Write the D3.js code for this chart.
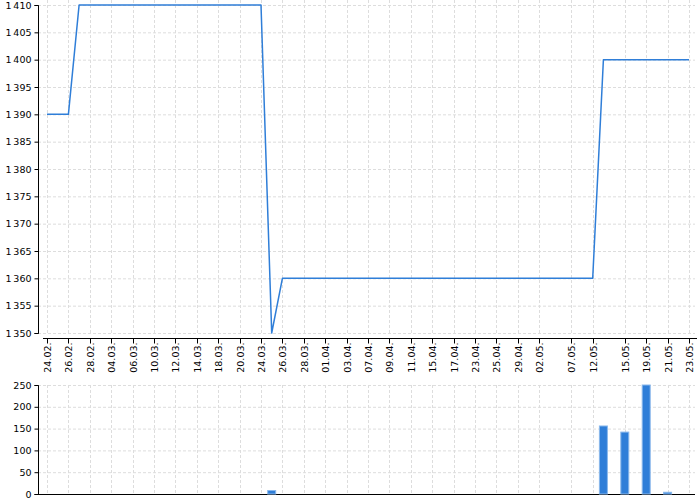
<!DOCTYPE html>
<html><head><meta charset="utf-8">
<script src="https://cdn.jsdelivr.net/npm/d3@7"></script>
<style>body{margin:0;background:#fff}svg{display:block;font-family:"DejaVu Sans",sans-serif}</style>
</head><body><svg id="c" width="700" height="500"></svg>
<script>
const dates = ["24.02.","25.02.","26.02.","27.02.","28.02.","03.03.","04.03.","05.03.","06.03.","07.03.",
"10.03.","11.03.","12.03.","13.03.","14.03.","17.03.","18.03.","19.03.","20.03.","21.03.",
"24.03.","25.03.","26.03.","27.03.","28.03.","31.03.","01.04.","02.04.","03.04.","04.04.",
"07.04.","08.04.","09.04.","10.04.","11.04.","14.04.","15.04.","16.04.","17.04.","22.04.",
"23.04.","24.04.","25.04.","28.04.","29.04.","30.04.","02.05.","05.05.","06.05.","07.05.",
"08.05.","12.05.","13.05.","14.05.","15.05.","16.05.","19.05.","20.05.","21.05.","22.05.","23.05."];
const price = [1390,1390,1390,1410,1410,1410,1410,1410,1410,1410,
1410,1410,1410,1410,1410,1410,1410,1410,1410,1410,
1410,1350,1360,1360,1360,1360,1360,1360,1360,1360,
1360,1360,1360,1360,1360,1360,1360,1360,1360,1360,
1360,1360,1360,1360,1360,1360,1360,1360,1360,1360,
1360,1360,1400,1400,1400,1400,1400,1400,1400,1400,1400];
const volume = [0,0,0,0,0,0,0,0,0,0,
0,0,0,0,0,0,0,0,0,0,
0,8,0,0,0,0,0,0,0,0,
0,0,0,0,0,0,0,0,0,0,
0,0,0,0,0,0,0,0,0,0,
0,0,156,0,142,0,250,0,4,0,0];
const tickLabels = ["24.02.","26.02.","28.02.","04.03.","06.03.","10.03.","12.03.","14.03.","18.03.","20.03.",
"24.03.","26.03.","28.03.","01.04.","03.04.","07.04.","09.04.","11.04.","15.04.","17.04.",
"23.04.","25.04.","29.04.","02.05.","07.05.","12.05.","15.05.","19.05.","21.05.","23.05."];
const priceTicks = [1350,1355,1360,1365,1370,1375,1380,1385,1390,1395,1400,1405,1410];
const volTicks = [0,50,100,150,200,250];

const svg = d3.select("#c");
const loc = d3.formatLocale({decimal:",",thousands:"\u2009",grouping:[3],currency:["",""]});
const fmt = loc.format(",");
const color = "#2f7ed8";
const xL = 38, xR = 695;
const x = d3.scalePoint().domain(dates).range([47, 689]);
const y1 = d3.scaleLinear().domain([1350,1410]).range([333,5]);
const y2 = d3.scaleLinear().domain([0,250]).range([494,385]);
const fs = "9.5px";

function grid(g, y, ticks, top, bottom){
  g.selectAll(".hg").data(ticks).join("line")
    .attr("x1", xL).attr("x2", xR).attr("y1", d=>y(d)+0.5).attr("y2", d=>y(d)+0.5)
    .attr("stroke","#ddd").attr("stroke-dasharray","3,2");
  g.selectAll(".vg").data(tickLabels).join("line")
    .attr("x1", d=>Math.round(x(d))+0.5).attr("x2", d=>Math.round(x(d))+0.5)
    .attr("y1", top).attr("y2", bottom)
    .attr("stroke","#ddd").attr("stroke-dasharray","3,2");
}
function yAxis(g, y, ticks){
  const ax = d3.axisLeft(y).tickValues(ticks).tickSize(4).tickPadding(3).tickFormat(fmt);
  g.attr("transform",`translate(${xL+0.5},0)`).call(ax);
  g.select(".domain").attr("stroke","#000").attr("d",`M-4,${y.range()[1]+0.5}H0V${y.range()[0]+0.5}H-4`);
  g.selectAll("text").attr("font-size",fs).attr("fill","#000").attr("font-family","DejaVu Sans");
  g.selectAll(".tick line").attr("stroke","#000");
}

// top chart
const gTop = svg.append("g");
grid(gTop, y1, priceTicks, 0, 333);
yAxis(svg.append("g"), y1, priceTicks);
// x axis
const xa = svg.append("g").attr("transform","translate(0,338.5)");
xa.append("line").attr("x1",43).attr("x2",697).attr("stroke","#000");
const xt = xa.selectAll(".t").data(tickLabels).join("g").attr("transform",d=>`translate(${Math.round(x(d))+0.5},0)`);
xt.append("line").attr("y1",0).attr("y2",5).attr("stroke","#000");
xt.append("text").attr("transform","rotate(-90)").attr("x",-4).attr("dy","0.35em")
  .attr("text-anchor","end").attr("font-size",fs).attr("fill","#000").text(d=>d);

svg.append("path").datum(price)
  .attr("fill","none").attr("stroke",color).attr("stroke-width",1.5).attr("stroke-linejoin","round")
  .attr("d", d3.line().x((d,i)=>x(dates[i])).y(d=>y1(d)));

// bottom chart
const gBot = svg.append("g");
grid(gBot, y2, volTicks.filter(d=>d>0), 385, 494);
yAxis(svg.append("g"), y2, volTicks);
svg.append("line").attr("x1",xL).attr("x2",xR).attr("y1",494.5).attr("y2",494.5).attr("stroke","#000");
svg.selectAll(".bar").data(volume.map((v,i)=>({v,d:dates[i]})).filter(o=>o.v>0)).join("rect")
  .attr("x",o=>x(o.d)-4).attr("width",8)
  .attr("y",o=>y2(o.v)).attr("height",o=>y2(0)-y2(o.v))
  .attr("fill",color).attr("stroke","#8ab8ec").attr("stroke-width",1);
</script></body></html>
